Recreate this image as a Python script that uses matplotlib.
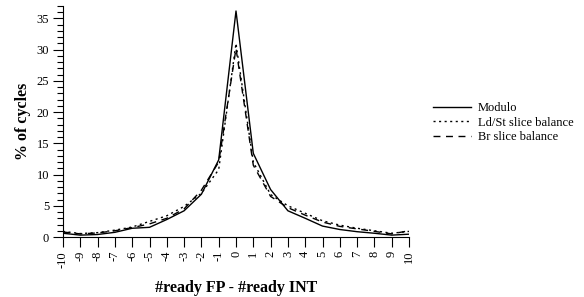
import matplotlib
matplotlib.use("Agg")
import matplotlib.pyplot as plt
from matplotlib.ticker import MultipleLocator

x_vals = list(range(-10, 11))
modulo = [0.6, 0.3, 0.4, 0.75, 1.4, 1.55, 2.8, 4.2, 6.85, 12.35, 36.2,
          13.4, 7.6, 4.2, 3.0, 1.75, 1.2, 0.85, 0.6, 0.3, 0.45]
ldst = [0.9, 0.55, 0.7, 1.1, 1.6, 2.5, 3.4, 4.9, 7.0, 10.8, 31.0,
        12.0, 6.8, 5.0, 3.8, 2.6, 1.9, 1.4, 1.0, 0.6, 0.9]
br = [0.8, 0.5, 0.65, 1.0, 1.5, 2.1, 3.0, 4.5, 7.5, 12.0, 30.2,
      11.5, 6.5, 4.7, 3.5, 2.4, 1.7, 1.3, 0.9, 0.5, 1.0]
labels = ["Modulo", "Ld/St slice balance", "Br slice balance"]
xlabel = "#ready FP - #ready INT"
ylabel = "% of cycles"

plt.rcParams['font.family'] = ['Liberation Serif', 'DejaVu Serif']

fig = plt.figure(figsize=(5.84, 2.97), dpi=100)
ax = fig.add_axes([63/584, (297-237)/297, (409-63)/584, (237-6)/297])

ax.plot(x_vals, modulo, color='black', lw=1.0, ls='-', label=labels[0])
ax.plot(x_vals, ldst, color='black', lw=1.0, ls=(0, (1.5, 2.5)), label=labels[1])
ax.plot(x_vals, br, color='black', lw=1.0, ls=(0, (5, 4)), label=labels[2])

ax.set_xlim(-10, 10)
ax.set_ylim(0, 37)
ax.spines['top'].set_visible(False)
ax.spines['right'].set_visible(False)
ax.set_xticks(x_vals)
ax.set_xticklabels([str(v) for v in x_vals], rotation=90, fontsize=9)
ax.yaxis.set_major_locator(MultipleLocator(5))
ax.yaxis.set_minor_locator(MultipleLocator(1))
ax.tick_params(axis='x', direction='out', length=7, width=0.8, pad=3)
ax.tick_params(axis='y', which='major', direction='out', length=7, width=0.8, labelsize=9, pad=3)
ax.tick_params(axis='y', which='minor', direction='out', length=4, width=0.8)
ax.set_xlabel(xlabel, fontsize=11.5, fontweight='bold', labelpad=9)
ax.set_ylabel(ylabel, fontsize=11.5, fontweight='bold', labelpad=4)

fig.legend(loc='upper left', bbox_to_anchor=(433/584, 1 - 102/297), frameon=False,
           fontsize=9, handlelength=3.0, handletextpad=0.6, labelspacing=0.2,
           borderpad=0, borderaxespad=0)

fig.savefig("out.png", dpi=100)
